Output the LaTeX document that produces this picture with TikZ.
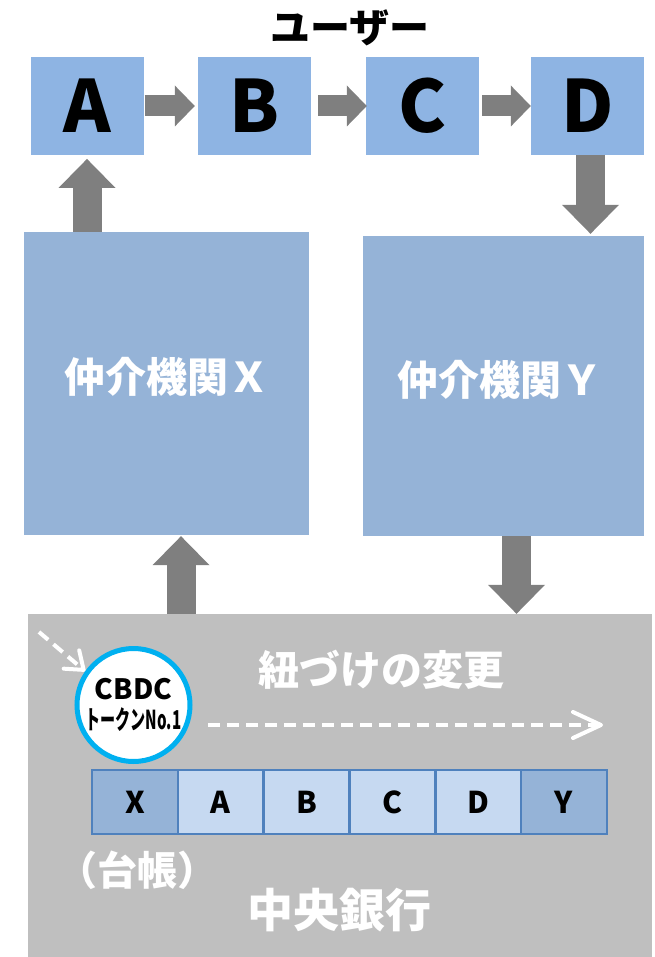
\documentclass[tikz,border=0pt]{standalone}
\usepackage{fontspec}
\setmainfont{Noto Sans CJK JP}
\usetikzlibrary{arrows.meta}
\definecolor{topblue}{HTML}{8EB4E3}
\definecolor{midblue}{HTML}{95B3D7}
\definecolor{cbgray}{HTML}{BFBFBF}
\definecolor{arrowgray}{HTML}{7F7F7F}
\definecolor{ledgerlight}{HTML}{C6D9F1}
\definecolor{ledgerdark}{HTML}{95B3D7}
\definecolor{ledgerborder}{HTML}{4F81BD}
\definecolor{tokencyan}{HTML}{00B0F0}
\begin{document}
\begin{tikzpicture}[x=1pt,y=-1pt,
  userbox/.style={fill=topblue, minimum width=113pt, minimum height=97.5pt, inner sep=0pt,
    font=\bfseries\fontsize{72}{74}\selectfont},
  agentbox/.style={fill=midblue, inner sep=0pt, text=white, text height=34pt, text depth=16pt,
    font=\bfseries\fontsize{41}{44}\selectfont},
  whitetext/.style={text=white, inner sep=0pt},
  cell/.style={draw=ledgerborder, line width=2.5pt, minimum width=85.83pt, minimum height=64pt,
    inner sep=0pt, font=\bfseries\fontsize{30}{32}\selectfont},
  harrow/.style={draw=arrowgray, line width=21pt, -{Triangle[length=20pt,width=41pt,line width=0pt]}},
  varrow/.style={draw=arrowgray, line width=29pt, -{Triangle[length=29pt,width=57pt,line width=0pt]}},
  dasharrow/.style={draw=white, line width=4pt, dash pattern=on 12pt off 7pt,
    -{Straight Barb[length=28pt,width=26pt,round]}}
]
\useasboundingbox (0,0) rectangle (654,957);

% title
\node[inner sep=0pt, font=\bfseries\fontsize{40}{42}\selectfont] (title) at (350,28) {ユーザー};

% users
\node[userbox] (A) at (87,106) {A};
\node[userbox] (B) at (254.5,106) {B};
\node[userbox] (C) at (422.5,106) {C};
\node[userbox] (D) at (587.5,106) {D};

\draw[harrow] ([xshift=1pt]A.east) -- ([xshift=-3pt]B.west);
\draw[harrow] ([xshift=7pt]B.east) -- ([xshift=1pt]C.west);
\draw[harrow] ([xshift=3pt]C.east) -- (D.west);

% intermediaries
\node[agentbox, minimum width=285pt, minimum height=303pt] (X) at (166.5,383.5) {仲介機関Ｘ};
\node[agentbox, minimum width=281pt, minimum height=300pt] (Y) at (503.5,386) {仲介機関Ｙ\hspace*{8pt}};

\draw[varrow, shorten >=4pt] (A.south |- X.north) -- (A.south);
\draw[varrow, shorten >=2pt] ([xshift=3pt]D.south) -- ([xshift=3pt]D.south |- Y.north);

% central bank
\node[fill=cbgray, minimum width=624pt, minimum height=343pt, inner sep=0pt] (CB) at (340,785.5) {};

\draw[varrow, shorten >=1pt] ([xshift=14.5pt]X.south |- CB.north) -- ([xshift=14.5pt]X.south);
\draw[varrow] ([xshift=13pt]Y.south) -- ([xshift=13pt]Y.south |- CB.north);

% token
\node[circle, fill=white, draw=tokencyan, line width=5pt, minimum size=113pt, inner sep=0pt,
  align=center, font=\bfseries\fontsize{26}{30}\selectfont] (token) at (133.5,705)
  {{\fontsize{28}{30}\selectfont CBDC}\\\scalebox{0.58}[1]{トークンNo.1}};

\coordinate (diagstart) at (39,632);
\draw[dasharrow, -{Straight Barb[length=16pt,width=24pt,round]}] (diagstart) -- (token.145);

\node[whitetext, font=\bfseries\fontsize{41}{44}\selectfont] (link) at (381,670) {紐づけの変更};
\coordinate (dstart) at (208,725);
\coordinate (dend) at (603,725);
\draw[dasharrow] (dstart) -- (dend);

% ledger
\foreach \i/\t/\c in {0/X/ledgerdark,1/A/ledgerlight,2/B/ledgerlight,3/C/ledgerlight,4/D/ledgerlight,5/Y/ledgerdark}
  \node[cell, fill=\c] (L\i) at (134.9+85.83*\i,802) {\t};

\node[whitetext, font=\bfseries\fontsize{40}{42}\selectfont] (ledgerlabel) at (137,870) {（台帳）};
\node[whitetext, font=\bfseries\fontsize{46}{48}\selectfont] (cblabel) at (339,910) {中央銀行};
\end{tikzpicture}
\end{document}
